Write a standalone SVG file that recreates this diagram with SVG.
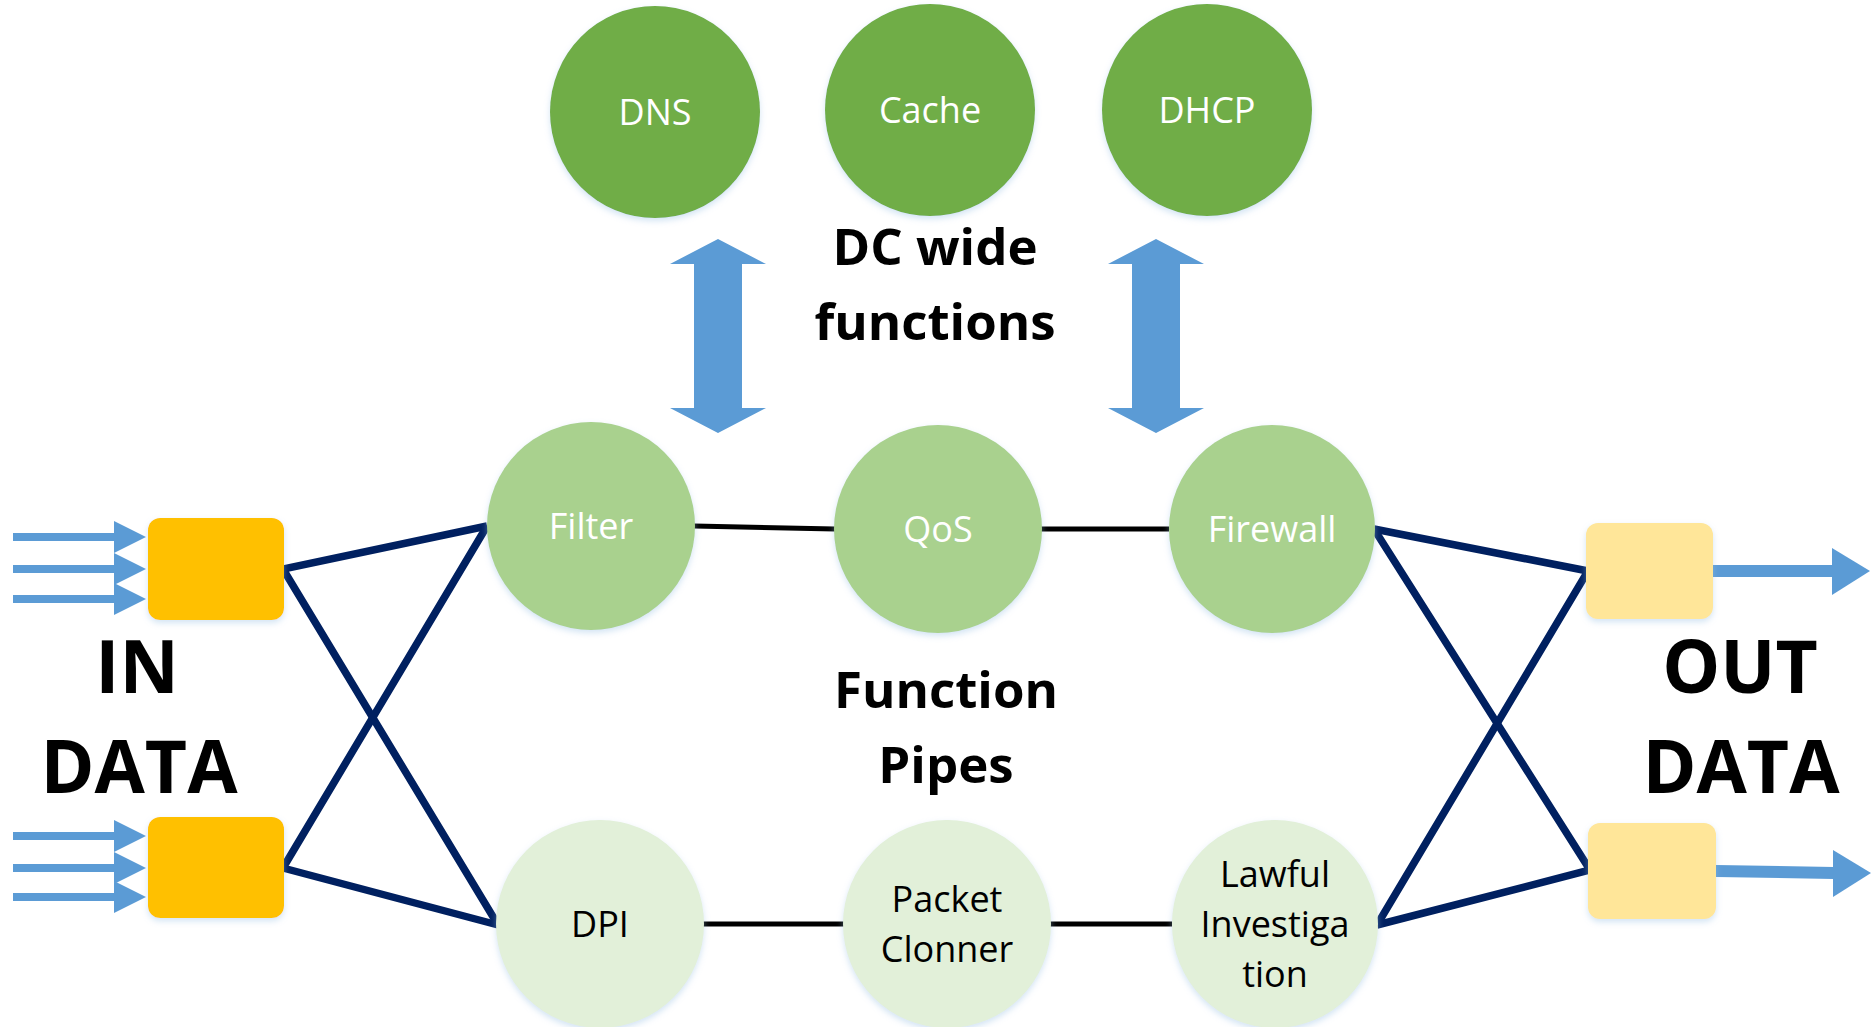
<svg xmlns="http://www.w3.org/2000/svg" width="1876" height="1027" viewBox="0 0 1876 1027">
  <defs>
    <filter id="soft" x="-20%" y="-20%" width="140%" height="140%">
      <feDropShadow dx="0" dy="3" stdDeviation="3" flood-color="#9DC3E6" flood-opacity="0.45"/>
    </filter>
  </defs>
  <style>
    .dc { fill: #70AD47; filter: url(#soft); }
    .pipe1 { fill: #A9D18E; filter: url(#soft); }
    .pipe2 { fill: #E2F0D9; filter: url(#soft); }
    .inbox { fill: #FFC000; filter: url(#soft); }
    .outbox { fill: #FFE699; filter: url(#soft); }
    .flow { fill: #5B9BD5; }
    .wlabel { font-family: "Open Sans", "Liberation Sans", sans-serif; font-size: 36px; fill: #FFFFFF; text-anchor: middle; }
    .klabel { font-family: "Open Sans", "Liberation Sans", sans-serif; font-size: 36px; fill: #000000; text-anchor: middle; }
    .title { font-family: "Open Sans", "Liberation Sans", sans-serif; font-weight: bold; font-size: 51px; fill: #000000; text-anchor: middle; }
    .big { font-family: "Open Sans", "Liberation Sans", sans-serif; font-weight: bold; font-size: 73px; fill: #000000; text-anchor: middle; }
    .link { stroke: #000000; stroke-width: 5; fill: none; }
    .cross { stroke: #002060; stroke-width: 7.5; fill: none; stroke-linejoin: miter; }
  </style>

  <!-- connectors -->
  <g id="connectors">
    <line class="link" x1="694" y1="526" x2="835" y2="529"/>
    <line class="link" x1="1041" y1="529" x2="1169" y2="529"/>
    <line class="link" x1="703" y1="924" x2="845" y2="924"/>
    <line class="link" x1="1050" y1="924" x2="1172" y2="924"/>
    <polyline class="cross" points="487,526 283,569 498,925"/>
    <polyline class="cross" points="487,526 283,868 498,925"/>
    <polyline class="cross" points="1374,529 1588,571 1377,925"/>
    <polyline class="cross" points="1374,529 1590,870 1377,925"/>
    <!-- DC-wide exchange arrows -->
    <polygon class="flow" points="718,239 766,264 742,264 742,408 766,408 718,433 670,408 694,408 694,264 670,264"/>
    <polygon class="flow" points="1156,239 1204,264 1180,264 1180,408 1204,408 1156,433 1108,408 1132,408 1132,264 1108,264"/>
    <!-- incoming traffic -->
    <rect class="flow" x="13" y="533" width="103" height="8"/>
    <rect class="flow" x="13" y="565" width="103" height="8"/>
    <rect class="flow" x="13" y="595" width="103" height="8"/>
    <polygon class="flow" points="114,521 146,537 114,553"/>
    <polygon class="flow" points="114,553 146,569 114,585"/>
    <polygon class="flow" points="114,583 146,599 114,615"/>
    <rect class="flow" x="13" y="832" width="103" height="8"/>
    <rect class="flow" x="13" y="864" width="103" height="8"/>
    <rect class="flow" x="13" y="893" width="103" height="8"/>
    <polygon class="flow" points="114,820 146,836 114,852"/>
    <polygon class="flow" points="114,852 146,868 114,884"/>
    <polygon class="flow" points="114,881 146,897 114,913"/>
    <!-- outgoing traffic -->
    <rect class="flow" x="1712" y="565" width="122" height="12"/>
    <polygon class="flow" points="1832,548 1870,571 1832,595"/>
    <polygon class="flow" points="1716,865 1834,867 1834,879 1716,877"/>
    <polygon class="flow" points="1833,850 1871,873 1833,897"/>
  </g>

  <!-- DC wide functions -->
  <g id="dns"><ellipse class="dc" cx="655" cy="112" rx="105" ry="106"/><text class="wlabel" x="655" y="125">DNS</text></g>
  <g id="cache"><ellipse class="dc" cx="930" cy="110" rx="105" ry="106"/><text class="wlabel" x="930" y="123">Cache</text></g>
  <g id="dhcp"><ellipse class="dc" cx="1207" cy="110" rx="105" ry="106"/><text class="wlabel" x="1207" y="123">DHCP</text></g>

  <!-- upper function pipe -->
  <g id="filter"><ellipse class="pipe1" cx="591" cy="526" rx="104" ry="104"/><text class="wlabel" x="591" y="539">Filter</text></g>
  <g id="qos"><ellipse class="pipe1" cx="938" cy="529" rx="104" ry="104"/><text class="wlabel" x="938" y="542">QoS</text></g>
  <g id="firewall"><ellipse class="pipe1" cx="1272" cy="529" rx="103" ry="104"/><text class="wlabel" x="1272" y="542">Firewall</text></g>

  <!-- lower function pipe -->
  <g id="dpi"><ellipse class="pipe2" cx="600" cy="924" rx="104" ry="104"/><text class="klabel" x="600" y="937">DPI</text></g>
  <g id="packet-clonner"><ellipse class="pipe2" cx="947" cy="924" rx="104" ry="104"/><text class="klabel" x="947" y="912">Packet</text><text class="klabel" x="947" y="962">Clonner</text></g>
  <g id="lawful-investigation"><ellipse class="pipe2" cx="1275" cy="924" rx="103" ry="104"/><text class="klabel" x="1275" y="887">Lawful</text><text class="klabel" x="1275" y="937">Investiga</text><text class="klabel" x="1275" y="987">tion</text></g>

  <!-- ports -->
  <g id="in-top"><rect class="inbox" x="148" y="518" width="136" height="102" rx="12"/></g>
  <g id="in-bottom"><rect class="inbox" x="148" y="817" width="136" height="101" rx="12"/></g>
  <g id="out-top"><rect class="outbox" x="1586" y="523" width="127" height="96" rx="12"/></g>
  <g id="out-bottom"><rect class="outbox" x="1588" y="823" width="128" height="96" rx="12"/></g>

  <!-- captions -->
  <g id="captions">
    <text class="title" x="935" y="265">DC wide</text>
    <text class="title" x="935" y="340">functions</text>
    <text class="title" x="946" y="708">Function</text>
    <text class="title" x="946" y="783">Pipes</text>
    <text class="big" x="137" y="693">IN</text>
    <text class="big" x="139" y="793">DATA</text>
    <text class="big" x="1740" y="693">OUT</text>
    <text class="big" x="1741" y="793">DATA</text>
  </g>
</svg>
